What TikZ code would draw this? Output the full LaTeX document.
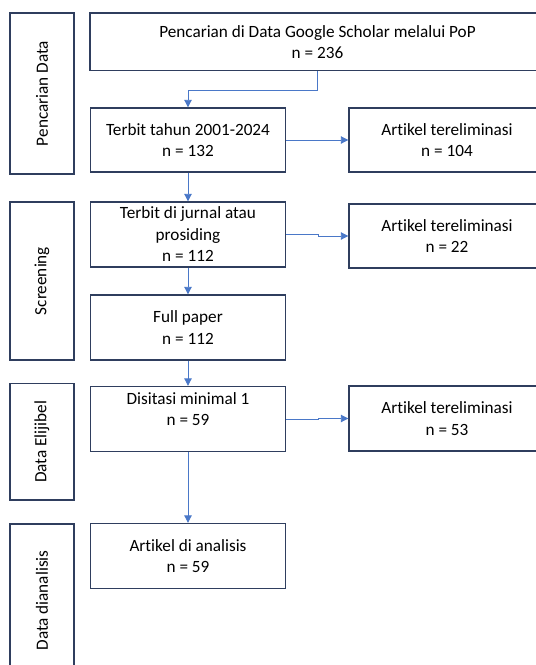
\documentclass[tikz,border=0pt]{standalone}
\usepackage{fontspec}
\setmainfont[Ligatures=NoCommon]{Carlito}
\usetikzlibrary{arrows.meta,calc}
\definecolor{boxline}{HTML}{2F3E5E}
\definecolor{arrowblue}{HTML}{4A78C8}
\begin{document}
\begin{tikzpicture}[x=1pt,y=-1pt,
  box/.style={draw=boxline,line width=1.4pt,fill=white,align=center,inner sep=0pt,
    font=\fontsize{17.2}{21.5}\selectfont},
  sidebox/.style={box,rotate=90},
  arr/.style={draw=arrowblue,line width=0.9pt,-{Triangle[width=7.5pt,length=7.5pt]}}]
\useasboundingbox (0,0) rectangle (536,665);
\clip (0,0) rectangle (536,665);
% side boxes
\node[sidebox,minimum width=161,minimum height=64] (s1) at (42,93.5) {Pencarian Data};
\node[sidebox,minimum width=158,minimum height=64] (s2) at (42,281) {Screening};
\node[sidebox,minimum width=116.6,minimum height=64] (s3) at (42,441.7) {Data Elijibel};
\node[sidebox,minimum width=153,minimum height=64] (s4) at (42,600.5) {Data dianalisis};
% main boxes
\node[box,minimum width=455,minimum height=57.7] (top) at (317.5,41.9) {Pencarian di Data Google Scholar melalui PoP\\n = 236};
\node[box,minimum width=195,minimum height=64] (t1) at (188,140) {Terbit tahun 2001-2024\\n = 132};
\node[box,minimum width=196,minimum height=64] (r1) at (447,140) {Artikel tereliminasi\\n = 104};
\node[box,minimum width=195,minimum height=65] (t2) at (188,234.5) {Terbit di jurnal atau\\prosiding\\n = 112};
\node[box,minimum width=196,minimum height=64] (r2) at (447,236) {Artikel tereliminasi\\n = 22};
\node[box,minimum width=195,minimum height=65] (t3) at (188,327.5) {Full paper\\n = 112};
\node[box,minimum width=195,minimum height=65] (t4) at (188,419) {Disitasi minimal 1\\n = 59\\[-8pt]\strut};
\node[box,minimum width=196,minimum height=65] (r3) at (447,418.5) {Artikel tereliminasi\\n = 53};
\node[box,minimum width=195,minimum height=65] (t5) at (188,556) {Artikel di analisis\\n = 59};
% connectors
\draw[arr] (top.south) -- ++(0,18.5) -| (t1.north);
\draw[arr] (t1.east) -- (r1.west);
\draw[arr] (t1.south) -- (t2.north);
\draw[arr] (t2.east) -- ++(32,0) |- (r2.west);
\draw[arr] (t2.south) -- (t3.north);
\draw[arr] (t3.south) -- (t4.north);
\draw[arr] (t4.east) -- ++(32,0) |- (r3.west);
\draw[arr] (t4.south) -- (t5.north);
\end{tikzpicture}
\end{document}
